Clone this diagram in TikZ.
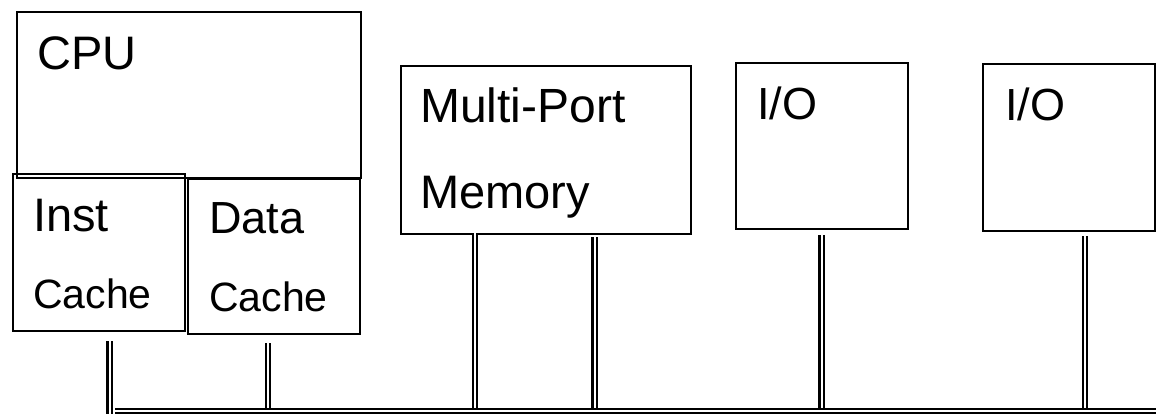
\documentclass[tikz,border=0pt]{standalone}
\usepackage{fontspec}
\setmainfont{Liberation Sans}

\begin{document}
\begin{tikzpicture}[x=1pt,y=-1pt]
            \tikzset{box/.style = {shape=rectangle, draw, line width=2.3pt, inner sep=0pt, anchor=north west}}
            \tikzset{lbl/.style = {inner sep=0pt, anchor=base west, font=\fontsize{47}{56}\selectfont}}
            \tikzset{small/.style = {lbl, font=\fontsize{41}{49}\selectfont}}
            \tikzset{link/.style = {draw, line width=2.4pt, double=white, double distance=2pt}}
            \useasboundingbox (0,0) rectangle (1156,413);
            % boxes
            \node[box, minimum width=344pt, minimum height=166pt] (cpu) at (16,11) {};
            \node[box, minimum width=172pt, minimum height=157pt] (inst) at (12,173) {};
            \node[box, minimum width=172pt, minimum height=155pt] (data) at (187,178) {};
            \node[box, minimum width=290pt, minimum height=168pt] (mem) at (400,65) {};
            \node[box, minimum width=172pt, minimum height=166pt] (ioa) at (735,62) {};
            \node[box, minimum width=172pt, minimum height=167pt] (iob) at (982,63) {};
            % labels
            \node[lbl] (cpulbl) at (37,69) {CPU};
            \node[lbl] (instlbl) at (33,231) {Inst};
            \node[small] (instc) at (33,308) {Cache};
            \node[lbl, font=\fontsize{45}{54}\selectfont] (datalbl) at (209,233) {Data};
            \node[small] (datac) at (209,311) {Cache};
            \node[lbl, font=\fontsize{48}{58}\selectfont] (memlbl) at (420,122) {Multi-Port};
            \node[lbl] (memlblb) at (420,208) {Memory};
            \node[lbl, font=\fontsize{45}{54}\selectfont] (ioalbl) at (757,119) {I/O};
            \node[lbl, font=\fontsize{45}{54}\selectfont] (ioblbl) at (1005,120) {I/O};
            % taps
            \coordinate (tinst) at (109.5,341);
            \coordinate (tdata) at (268,343);
            \coordinate (tmema) at (475,233);
            \coordinate (tmemb) at (594.5,237);
            \coordinate (tioa) at (821.5,235);
            \coordinate (tiob) at (1085,236);
            \coordinate (floor) at (0,418);
            \coordinate (busl) at (115,411);
            \coordinate (busr) at (1162,411);
            % edges
            \draw[link] (tinst) to (tinst |- floor);
            \draw[link] (tdata) to (tdata |- floor);
            \draw[link] (tmema) to (tmema |- floor);
            \draw[link] (tmemb) to (tmemb |- floor);
            \draw[link] (tioa) to (tioa |- floor);
            \draw[link] (tiob) to (tiob |- floor);
            \draw[link, line width=2pt, double distance=2pt] (busl) to (busr);
        \end{tikzpicture}
\end{document}
